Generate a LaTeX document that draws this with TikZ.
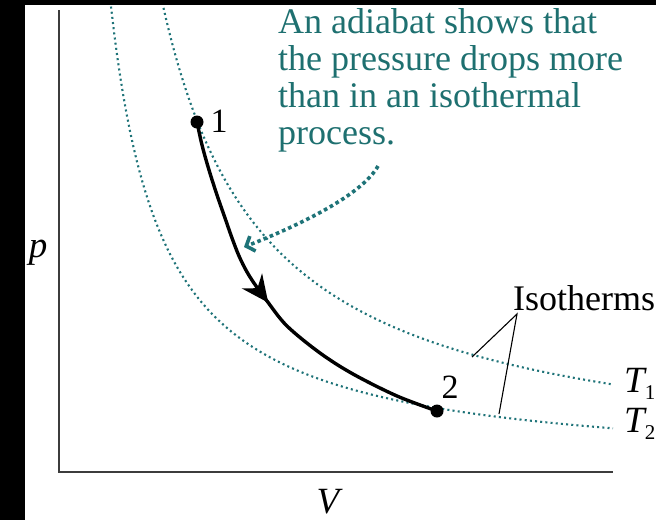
\documentclass[tikz,border=0pt]{standalone}
\usepackage{fontspec}
\setmainfont{Liberation Serif}
\usetikzlibrary{arrows.meta,decorations.markings}
\definecolor{tealdot}{RGB}{30,115,120}
\definecolor{tealtext}{RGB}{30,112,112}
\definecolor{axisgray}{RGB}{60,60,60}
\tikzset{
  isodots/.style={tealdot,line width=2.1pt,dash pattern=on 2pt off 3.2pt},
  ptdot/.style={circle,fill=black,inner sep=0pt,minimum size=13pt},
  ptlabel/.style={font=\fontsize{34}{34}\selectfont,inner sep=0pt,anchor=base},
  axislabel/.style={font=\fontsize{37}{37}\selectfont\itshape,inner sep=0pt,anchor=base},
  tlabel/.style={font=\fontsize{37}{37}\selectfont,inner sep=0pt,anchor=base west},
  adiab/.style={line width=3.4pt,postaction={decorate},
    decoration={markings,mark=at position 0.49 with {\arrow{Stealth[length=27pt,width=25pt,inset=9pt]}}}},
  hint/.style={tealdot,line width=3.6pt,dash pattern=on 3.6pt off 3.1pt,
    -{Straight Barb[length=7pt,width=16pt,line width=3.6pt]}},
  leader/.style={line width=1.1pt,black}
}
\begin{document}
\begin{tikzpicture}[x=1pt,y=-1pt]
\useasboundingbox (0,0) rectangle (656,520);
\fill[white] (0,0) rectangle (656,520);
\fill[black] (0,0) rectangle (25,520);
\fill[black] (0,0) rectangle (656,5);
% axes
\coordinate (ytop) at (59,10);
\coordinate (orig) at (59,472);
\coordinate (xend) at (613,472);
\draw[axisgray,line width=2.2pt] (ytop) -- (orig) -- (xend);
\node[axislabel] (plab) at (38,257) {p};
\node[axislabel] (vlab) at (328,513) {V};
% isotherms
\draw[isodots] plot[domain=111:613,samples=160] (\x,{472-242/((\x-59)/100)});
\draw[isodots] plot[domain=163.5:613,samples=160] (\x,{472-485/((\x-59)/100)});
% points
\node[ptdot] (p1) at (197,122) {};
\node[ptdot] (p2) at (437,411) {};
\node[ptlabel] (l1) at (219,132) {1};
\node[ptlabel] (l2) at (450,398) {2};
% adiabat
\draw[adiab] plot[smooth,tension=0.55] coordinates {(p1.center) (202,145) (209,170) (217,195) (225,218) (232,238) (239,256) (247,272) (256,286) (267,301) (287,326) (320,353) (353,374) (397,396) (p2.center)};
% annotation
\node[tealtext,font=\fontsize{36}{37}\selectfont,align=left,inner sep=0pt,anchor=base west] (note) at (278,144)
  {An adiabat shows that\\the pressure drops more\\than in an isothermal\\process.};
\coordinate (hs) at (378,166);
\coordinate (he) at (244,247);
\draw[hint] (hs) .. controls (362,195) and (300,225) .. (he);
% isotherm labels
\node[font=\fontsize{36}{36}\selectfont,inner sep=0pt,anchor=base west] (iso) at (513,310) {Isotherms};
\coordinate (apex) at (517,314);
\coordinate (c1) at (472,357);
\coordinate (c2) at (499,414);
\draw[leader] (c1) -- (apex) -- (c2);
\node[tlabel] (t1) at (624,392) {\itshape T\raisebox{-7pt}{\fontsize{21}{21}\selectfont\upshape 1}};
\node[tlabel] (t2) at (624,432) {\itshape T\raisebox{-7pt}{\fontsize{21}{21}\selectfont\upshape 2}};
\end{tikzpicture}
\end{document}
